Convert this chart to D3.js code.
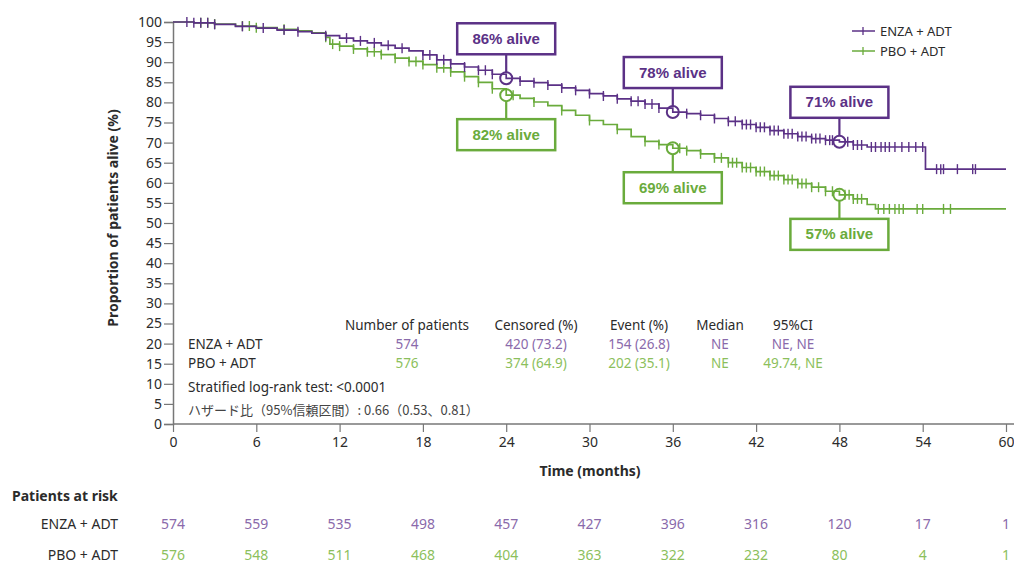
<!DOCTYPE html>
<html>
<head>
<meta charset="utf-8">
<script src="https://cdn.jsdelivr.net/npm/d3@7"></script>
<style>
  body { margin: 0; background: #fff; }
  text { font-family: "Noto Sans", sans-serif; }
</style>
</head>
<body>
<script>
'use strict'

// KM steps: [month, % alive]
const enzaSteps = [[0,100],[1.5,99.8],[3,99.4],[4.5,98.9],[6,98.5],[7.5,98.0],[9,97.6],[10,97.2],[11,96.6],[12,96.0],
  [13,95.3],[14,94.8],[15,94.2],[16,93.5],[17,92.8],[18,91.8],[19,90.6],[20,89.6],[21,88.8],[22,88.0],[23,87.0],[24,86.0],
  [25,85.3],[26,84.9],[27,84.3],[28,83.6],[29,83.0],[30,82.2],[31,81.6],[32,80.9],[33,80.3],[34,79.6],[35,78.6],[36,77.6],
  [37,77.2],[38,76.8],[39,76.0],[40,75.3],[41,74.5],[42,73.8],[43,73.0],[44,72.2],[45,71.5],[46,71.0],[47,70.6],[48,70.2],
  [49,69.4],[50,68.9],[54.2,63.4],[60,63.4]];
const pboSteps = [[0,100],[1.5,99.8],[3,99.5],[4.5,99.0],[6,98.6],[7.5,98.2],[9,97.8],[10,97.3],[11,96.2],[11.3,94.5],
  [12,94.0],[13,93.3],[14,92.6],[15,91.9],[16,91.0],[17,90.2],[18,89.4],[19,88.6],[20,87.6],[21,86.4],[22,85.0],[23,83.4],
  [24,81.8],[25,81.0],[26,80.1],[27,79.2],[28,78.0],[29,76.8],[30,75.5],[31,74.5],[32,73.3],[33,71.5],[34,70.3],[35,69.5],
  [36,68.6],[37,68.0],[38,67.2],[39,66.2],[40,65.0],[41,63.8],[42,62.8],[43,61.8],[44,60.8],[45,59.8],[46,58.9],[47,57.9],
  [48,57.0],[49,56.0],[50,54.6],[50.6,53.5],[60,53.5]];

const enzaCensor = [1,1.5,2,2.5,3,5,6.5,8,9,11,12.5,13.5,14.5,15.5,16.5,18,18.5,19,19.5,20,21,22,22.5,23,25,26,27,28,29,
  30,31,32,33,33.5,34,34.5,35,37,38,39,40,40.5,41,41.3,41.6,42,42.3,42.6,43,43.3,43.6,44,44.3,44.6,45,45.3,45.6,46,46.3,
  46.6,47,47.3,47.5,48.6,49,49.3,49.6,50.3,50.6,51,51.3,51.6,52,52.5,53,53.5,54,55,55.3,55.5,56.5,57.6,57.8];
const pboCensor = [2,2.5,3,5,5.5,6,8,11,11.5,12,13,14,14.5,15,16,17,17.5,18,19,19.5,20,21,22,23,24.5,26,28,30,32,34,35,
  36.5,37,38,39,39.5,40,40.3,40.6,41,41.3,41.6,42,42.3,42.6,43,43.3,43.6,44,44.3,44.6,45,45.3,45.6,46,46.5,47,47.5,48.4,
  48.7,49,49.3,49.6,50.8,51.2,51.6,52,52.3,52.6,53.6,54,55.5,56];

const monthTicks = [0,6,12,18,24,30,36,42,48,54,60];
const pctTicks = [0,5,10,15,20,25,30,35,40,45,50,55,60,65,70,75,80,85,90,95,100];

const riskEnza = [574,559,535,498,457,427,396,316,120,17,1];
const riskPbo = [576,548,511,468,404,363,322,232,80,4,1];

const statHeaders = ['Number of patients','Censored (%)','Event (%)','Median','95%CI'];
const enzaStats = ['574','420 (73.2)','154 (26.8)','NE','NE, NE'];
const pboStats = ['576','374 (64.9)','202 (35.1)','NE','49.74, NE'];

const callouts = [
  {t: 24, arm: 'enza', label: '86% alive', side: 'above'},
  {t: 24, arm: 'pbo', label: '82% alive', side: 'below'},
  {t: 36, arm: 'enza', label: '78% alive', side: 'above'},
  {t: 36, arm: 'pbo', label: '69% alive', side: 'below'},
  {t: 48, arm: 'enza', label: '71% alive', side: 'above'},
  {t: 48, arm: 'pbo', label: '57% alive', side: 'below'}
];

const purple = '#5b3186', green = '#6aab3c',
      purpleTxt = '#8a6aab', greenTxt = '#8cbf5c', ink = '#2b2b2b';

const svg = d3.select('body').append('svg')
  .attr('width', 1014)
  .attr('height', 563);

const x = d3.scaleLinear().domain([0, 60]).range([173, 1006]),
      y = d3.scaleLinear().domain([0, 100]).range([424, 22]);

// axes
const yAxis = svg.append('g')
  .attr('transform', 'translate(' + [173, 0] + ')')
  .call(d3.axisLeft(y).tickValues(pctTicks).tickSize(9).tickPadding(2));
const xAxis = svg.append('g')
  .attr('transform', 'translate(' + [0, 424] + ')')
  .call(d3.axisBottom(x).tickValues(monthTicks).tickSize(8).tickPadding(5));
[yAxis, xAxis].forEach(a => {
  a.select('.domain').attr('stroke', '#777').attr('stroke-width', 1.5);
  a.selectAll('.tick line').attr('stroke', '#777').attr('stroke-width', 1.2);
  a.selectAll('.tick text').attr('fill', ink).style('font-size', '14px')
    .style('font-family', '"Noto Sans", sans-serif');
});
xAxis.select('.domain').attr('d', 'M173,0H1014');

svg.append('text')
  .attr('transform', 'translate(' + [118, 218] + ') rotate(-90)')
  .attr('text-anchor', 'middle')
  .attr('font-weight', 'bold')
  .attr('font-size', 14)
  .attr('fill', ink)
  .text('Proportion of patients alive (%)');

svg.append('text')
  .attr('x', 590).attr('y', 476)
  .attr('text-anchor', 'middle')
  .attr('font-weight', 'bold')
  .attr('font-size', 14)
  .attr('fill', ink)
  .text('Time (months)');

// curves
const line = d3.line()
  .x(d => x(d[0]))
  .y(d => y(d[1]))
  .curve(d3.curveStepAfter);

const valueAt = function(steps, t){
  const i = d3.bisector(d => d[0]).right(steps, t) - 1;
  return steps[Math.max(0, i)][1];
}

const arms = {enza: {steps: enzaSteps, censor: enzaCensor, color: purple},
              pbo: {steps: pboSteps, censor: pboCensor, color: green}};

['pbo', 'enza'].forEach(k => {
  const a = arms[k];
  svg.append('path')
    .attr('d', line(a.steps))
    .attr('fill', 'none')
    .attr('stroke', a.color)
    .attr('stroke-width', 1.7);
  svg.append('g').selectAll('line')
    .data(a.censor)
    .enter()
    .append('line')
    .attr('x1', d => x(d)).attr('x2', d => x(d))
    .attr('y1', d => y(valueAt(a.steps, d)) - 5)
    .attr('y2', d => y(valueAt(a.steps, d)) + 5)
    .attr('stroke', a.color)
    .attr('stroke-width', 1.4);
});

// callouts
const boxW = 98, boxH = 31, gap = 24;
callouts.forEach(c => {
  const a = arms[c.arm],
        cx = x(c.t),
        cy = y(valueAt(a.steps, c.t)),
        top = c.side === 'above' ? cy - gap - boxH : cy + gap;
  const g = svg.append('g');
  g.append('line')
    .attr('x1', cx).attr('x2', cx)
    .attr('y1', c.side === 'above' ? cy - 6 : cy + 6)
    .attr('y2', c.side === 'above' ? cy - gap : cy + gap)
    .attr('stroke', a.color).attr('stroke-width', 2.2);
  g.append('circle')
    .attr('cx', cx).attr('cy', cy).attr('r', 6)
    .attr('fill', 'none').attr('stroke', a.color).attr('stroke-width', 2);
  g.append('rect')
    .attr('x', cx - boxW / 2).attr('y', top)
    .attr('width', boxW).attr('height', boxH)
    .attr('fill', '#fff').attr('stroke', a.color).attr('stroke-width', 2.5);
  g.append('text')
    .attr('x', cx).attr('y', top + boxH / 2 + 5)
    .attr('text-anchor', 'middle')
    .style('font-family', '"Liberation Sans", Arial, sans-serif')
    .attr('font-weight', 'bold').attr('font-size', 15)
    .attr('fill', a.color)
    .text(c.label);
});

// legend
const legend = svg.append('g');
[['ENZA + ADT', purple, 31], ['PBO + ADT', green, 51]].forEach(l => {
  legend.append('line')
    .attr('x1', 852).attr('x2', 875).attr('y1', l[2]).attr('y2', l[2])
    .attr('stroke', l[1]).attr('stroke-width', 1.5);
  legend.append('line')
    .attr('x1', 863).attr('x2', 863).attr('y1', l[2] - 4).attr('y2', l[2] + 4)
    .attr('stroke', l[1]).attr('stroke-width', 1.3);
  legend.append('text')
    .attr('x', 880).attr('y', l[2] + 5)
    .attr('font-size', 13).attr('fill', ink)
    .text(l[0]);
});

// stats table inside plot
const statX = [407, 536, 639, 720, 793];
const stats = svg.append('g').attr('font-size', 13.5);
stats.selectAll('.hdr')
  .data(statHeaders).enter()
  .append('text')
  .attr('x', (d, i) => statX[i]).attr('y', 330)
  .attr('text-anchor', 'middle').attr('fill', ink)
  .text(d => d);
[[enzaStats, 'ENZA + ADT', purpleTxt, 349], [pboStats, 'PBO + ADT', greenTxt, 368]].forEach(r => {
  stats.append('text')
    .attr('x', 188).attr('y', r[3]).attr('fill', ink)
    .text(r[1]);
  stats.append('g').selectAll('text')
    .data(r[0]).enter()
    .append('text')
    .attr('x', (d, i) => statX[i]).attr('y', r[3])
    .attr('text-anchor', 'middle').attr('fill', r[2])
    .text(d => d);
});
stats.append('text')
  .attr('x', 188).attr('y', 392).attr('fill', ink)
  .text('Stratified log-rank test: <0.0001');
stats.append('text')
  .attr('x', 188).attr('y', 415).attr('fill', '#444')
  .style('font-family', '"Noto Sans CJK JP", sans-serif')
  .attr('font-size', 13)
  .text('ハザード比（95%信頼区間）: 0.66（0.53、0.81）');

// patients at risk
const risk = svg.append('g').attr('font-size', 14);
risk.append('text')
  .attr('x', 12).attr('y', 501)
  .attr('font-weight', 'bold').attr('fill', ink)
  .text('Patients at risk');
[[riskEnza, 'ENZA + ADT', purpleTxt, 529], [riskPbo, 'PBO + ADT', greenTxt, 560]].forEach(r => {
  risk.append('text')
    .attr('x', 118).attr('y', r[3])
    .attr('text-anchor', 'end').attr('fill', ink)
    .text(r[1]);
  risk.append('g').selectAll('text')
    .data(r[0]).enter()
    .append('text')
    .attr('x', (d, i) => x(monthTicks[i])).attr('y', r[3])
    .attr('text-anchor', 'middle').attr('fill', r[2])
    .text(d => d);
});
</script>
</body>
</html>
